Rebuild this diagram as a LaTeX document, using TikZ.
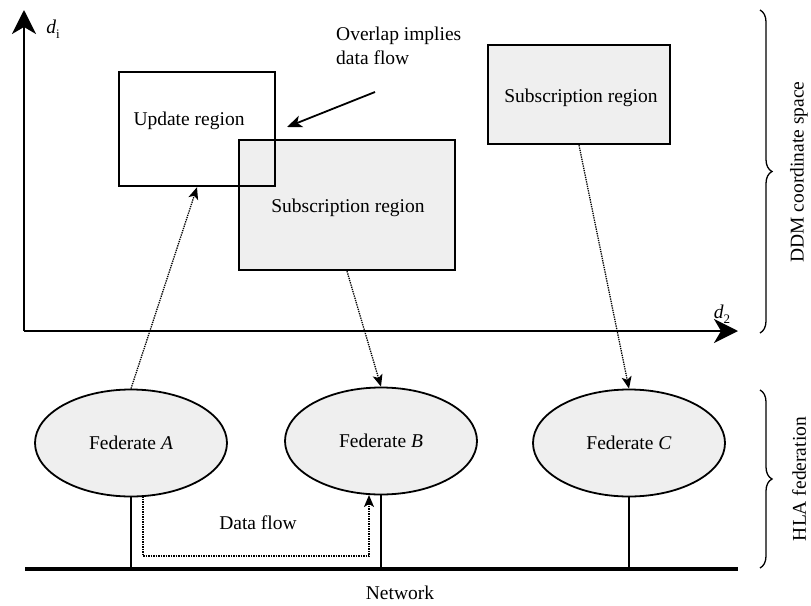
\documentclass[tikz,border=0pt]{standalone}
\usepackage{fontspec}
\setmainfont{Liberation Serif}
\usetikzlibrary{arrows.meta,shapes.geometric,decorations.pathreplacing,calc}
\definecolor{regiongray}{RGB}{239,239,239}

\begin{document}
\begin{tikzpicture}[x=1pt,y=-1pt,
  font=\fontsize{19.5}{21}\selectfont,
  region/.style={draw, line width=2.4pt, inner sep=0pt},
  subregion/.style={region, fill=regiongray},
  federate/.style={ellipse, draw, line width=1.8pt, fill=regiongray,
    minimum width=192pt, minimum height=107pt, inner sep=0pt},
  axis/.style={line width=2.2pt, -{Stealth[length=24pt,width=24pt,inset=7pt]}},
  flow/.style={densely dotted, line width=1.3pt, -{Stealth[length=12pt,width=10pt,inset=3pt]}},
  stem/.style={line width=2.6pt},
  netline/.style={line width=3.6pt},
  bracestyle/.style={decorate, line width=1.3pt,
    decoration={brace, amplitude=12pt}},
  txt/.style={inner sep=0pt},
]
\useasboundingbox (0,0) rectangle (811,605);

% DDM coordinate axes
\coordinate (origin) at (24,331);
\coordinate (ytip) at (24,10);
\coordinate (xtip) at (738,331);
\draw[axis] (origin) -- (ytip);
\draw[axis] (origin) -- (xtip);
\node[txt] (dlabi) at (53,29) {\textit{d}\raisebox{-5pt}{\fontsize{13}{13}\selectfont i}};
\node[txt] (dlabtwo) at (722,314) {\textit{d}\raisebox{-5pt}{\fontsize{13}{13}\selectfont 2}};

% Regions in the coordinate space
\node[subregion, minimum width=216pt, minimum height=130pt] (subone) at (347,205) {};
\node[region, minimum width=156pt, minimum height=114pt] (upd) at (197,129) {};
\node[subregion, minimum width=182pt, minimum height=99pt] (subtwo) at (579,94.5) {};
\node[txt, anchor=base] (updtext) at (189,125) {Update region};
\node[txt, anchor=base] (subonetext) at (348,212) {Subscription region};
\node[txt, anchor=base] (subtwotext) at (581,102) {Subscription region};

% Overlap annotation
\node[txt, anchor=north west, align=left, font=\fontsize{19.5}{24}\selectfont]
  (overlaptext) at (336,27) {Overlap implies\\data flow};
\coordinate (ovstart) at (375,92);
\coordinate (ovend) at (287,127);
\draw[line width=1.8pt, -{Stealth[length=15pt,width=12pt,inset=4pt]}] (ovstart) -- (ovend);

% Federates
\node[federate] (fedA) at (131,443) {Federate \textit{A}};
\node[federate] (fedB) at (381,441) {Federate \textit{B}};
\node[federate] (fedC) at (629,443) {Federate \textit{C}};

% Mapping of federates to regions
\draw[flow] (fedA.north) -- (upd.south);
\draw[flow] (subone.south) -- (fedB.north);
\draw[flow] (subtwo.south) -- (fedC.north);

% Network and attachments
\coordinate (netL) at (25,569);
\coordinate (netR) at (738,569);
\draw[netline] (netL) -- (netR);
\draw[stem] (fedA.south) -- (fedA.south |- netL);
\draw[stem] (fedB.south) -- (fedB.south |- netL);
\draw[stem] (fedC.south) -- (fedC.south |- netL);
\node[txt] (network) at (400,593) {Network};

% Data flow between federates
\coordinate (dfa) at (143,496);
\coordinate (dfb) at (369,495);
\draw[densely dotted, line width=1.5pt, -{Stealth[length=12pt,width=10pt,inset=3pt]}]
  (dfa) -- (dfa |- 0,556) -- (dfb |- 0,556) -- (dfb);
\node[txt] (dataflow) at (258,523) {Data flow};

% Braces
\coordinate (braceAtop) at (760,10);
\coordinate (braceAbot) at (760,333);
\coordinate (braceBtop) at (760,390);
\coordinate (braceBbot) at (760,568);
\draw[bracestyle] (braceAtop) -- (braceAbot);
\draw[bracestyle] (braceBtop) -- (braceBbot);
\node[txt, rotate=90] (ddmlabel) at (799,172) {DDM coordinate space};
\node[txt, rotate=90] (hlalabel) at (799,479) {HLA federation};
\end{tikzpicture}
\end{document}
